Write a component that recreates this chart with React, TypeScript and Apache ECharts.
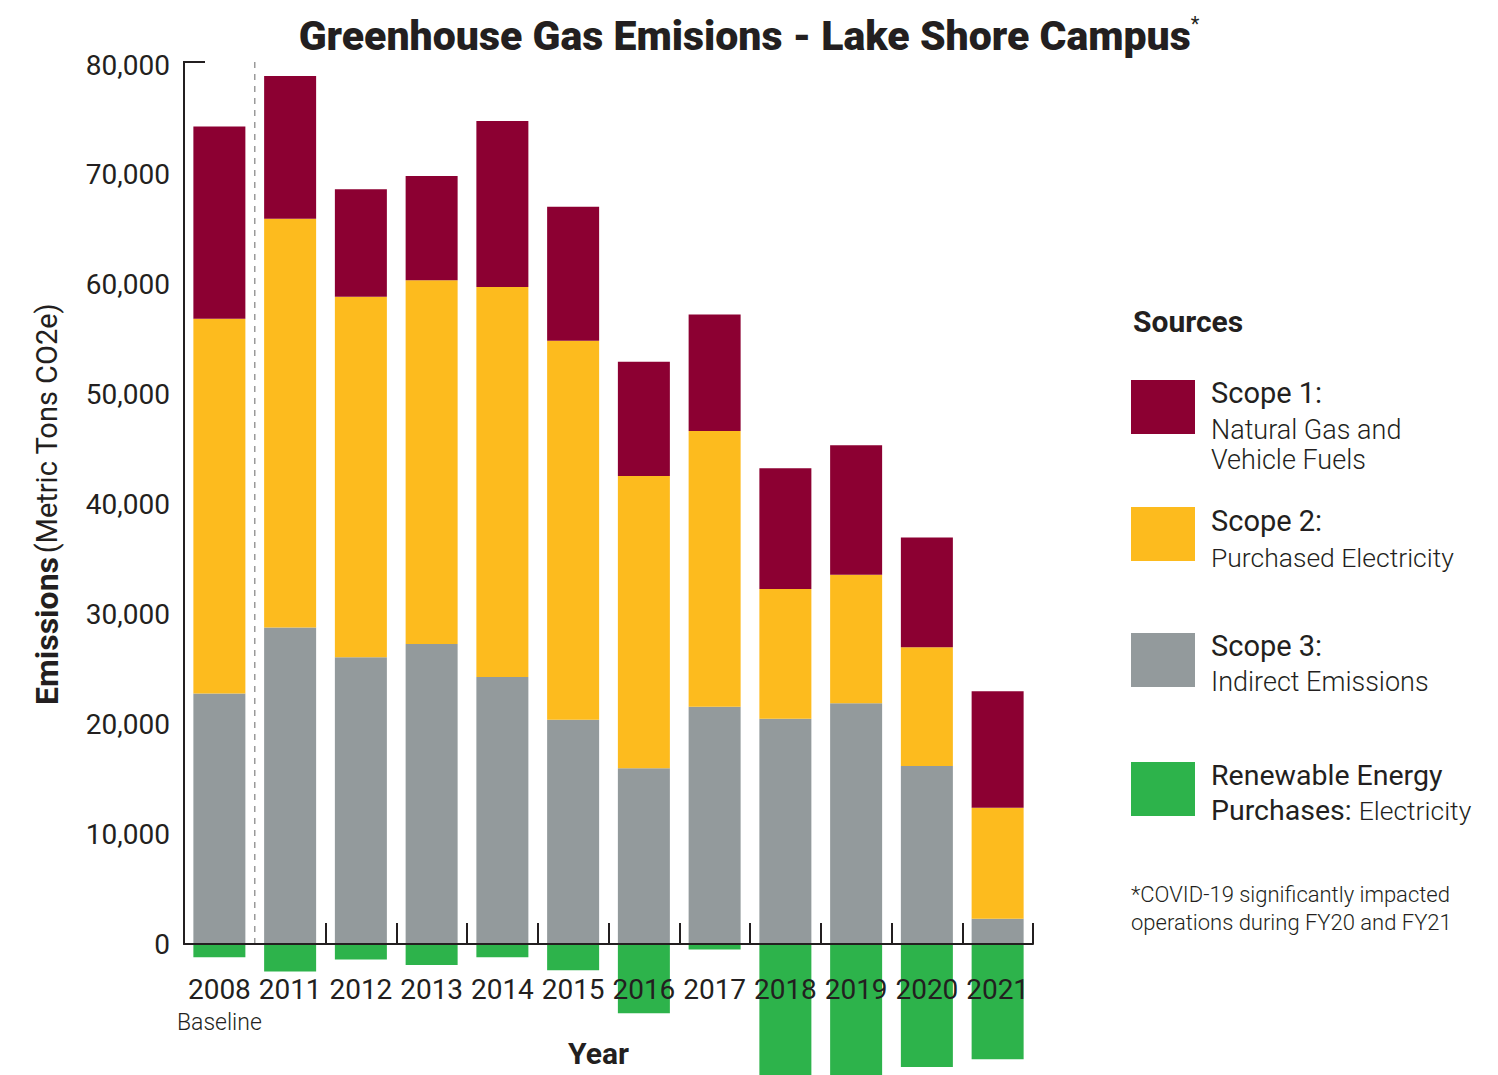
import React, { useEffect, useRef } from "react";
import * as echarts from "echarts";

const years = ["2008", "2011", "2012", "2013", "2014", "2015", "2016", "2017", "2018", "2019", "2020", "2021"];
const scope3 = [22800, 28800, 26100, 27300, 24300, 20400, 16000, 21600, 20500, 21900, 16200, 2300];
const scope2 = [34100, 37200, 32800, 33100, 35500, 34500, 26600, 25100, 11800, 11700, 10800, 10100];
const scope1 = [17500, 13000, 9800, 9500, 15100, 12200, 10400, 10600, 11000, 11800, 10000, 10600];
const renewable = [-1200, -2500, -1400, -1900, -1200, -2400, -6300, -500, -12000, -12000, -11200, -10500];
const yTicks = [0, 10000, 20000, 30000, 40000, 50000, 60000, 70000, 80000];

const RED = "#8C0032";
const YELLOW = "#FDBB1E";
const GRAY = "#939A9C";
const GREEN = "#2DB34B";
const INK = "#231F20";
const NUM = "Roboto, sans-serif";
const TXT = "Roboto, sans-serif";

function legendGraphics(): any[] {
  const sw = (id: string, y: number, color: string) => ({
    id, type: "rect", shape: { x: 1131, y, width: 64, height: 54 }, style: { fill: color },
  });
  const tx = (id: string, y: number, text: string, size: number, weight: any, rich?: any) => ({
    id, type: "text", x: 1211, y,
    style: { text, fontFamily: TXT, fontSize: size, fontWeight: weight, fill: INK, verticalAlign: "middle", align: "left", rich },
  });
  return [
    { id: "src", type: "text", x: 1133, y: 321, style: { text: "Sources", fontFamily: TXT, fontSize: 30, fontWeight: "bold", fill: INK, verticalAlign: "middle" } },
    sw("sw1", 380, RED), sw("sw2", 507, YELLOW), sw("sw3", 633, GRAY), sw("sw4", 762, GREEN),
    tx("l1a", 393, "Scope 1:", 29, 400),
    tx("l1b", 430, "Natural Gas and", 27, 300),
    tx("l1c", 460, "Vehicle Fuels", 27, 300),
    tx("l2a", 521, "Scope 2:", 29, 400),
    tx("l2b", 557, "Purchased Electricity", 26.5, 300),
    tx("l3a", 646, "Scope 3:", 29, 400),
    tx("l3b", 682, "Indirect Emissions", 27, 300),
    tx("l4a", 775, "Renewable Energy", 28.5, 400),
    tx("l4b", 810, "{m|Purchases:} {l|Electricity}", 28.5, 400, {
      m: { fontFamily: TXT, fontSize: 28.5, fontWeight: 400, fill: INK },
      l: { fontFamily: TXT, fontSize: 26.5, fontWeight: 300, fill: INK },
    }),
    { id: "fn1", type: "text", x: 1131, y: 894, style: { text: "*COVID-19 significantly impacted", fontFamily: TXT, fontSize: 22, fontWeight: 300, fill: INK, verticalAlign: "middle" } },
    { id: "fn2", type: "text", x: 1131, y: 922, style: { text: "operations during FY20 and FY21", fontFamily: TXT, fontSize: 22, fontWeight: 300, fill: INK, verticalAlign: "middle" } },
    {
      id: "yname", type: "text", x: 47, y: 504, rotation: Math.PI / 2,
      style: {
        text: "{b|Emissions} {r|(Metric Tons CO2e)}", align: "center", verticalAlign: "middle",
        rich: {
          b: { fontFamily: TXT, fontSize: 32, fontWeight: "bold", fill: INK },
          r: { fontFamily: TXT, fontSize: 29, fontWeight: 400, fill: INK },
        },
      },
    },
  ];
}

export default function App() {
  const ref = useRef<HTMLDivElement>(null);
  useEffect(() => {
    if (!ref.current) return;
    const chart = echarts.init(ref.current, null, { renderer: "svg" });
    const barCommon = { type: "bar", stack: "total", barWidth: 52, clip: false, emphasis: { disabled: true } };
    chart.setOption({
      animation: false,
      backgroundColor: "#ffffff",
      title: {
        left: "center", top: 4,
        text: "{t|Greenhouse Gas Emisions - Lake Shore Campus}{s|*}",
        textStyle: {
          rich: {
            t: { fontFamily: TXT, fontSize: 41, fontWeight: 900, color: INK, lineHeight: 54 },
            s: { fontFamily: TXT, fontSize: 20, fontWeight: 400, color: INK, lineHeight: 54, padding: [0, 0, 24, 0] },
          },
        },
      },
      grid: { left: 184, right: 465, top: 65, bottom: 131, containLabel: false, outerBoundsMode: "none" },
      xAxis: {
        type: "category", data: years, z: 10,
        axisLine: { onZero: false, lineStyle: { color: INK, width: 2 } },
        axisTick: { show: true, inside: true, length: 21, lineStyle: { color: INK, width: 2 }, interval: (i: number) => i >= 2 },
        axisLabel: {
          margin: 28, interval: 0,
          formatter: (v: string) => (v === "2008" ? "{y|2008}\n{b|Baseline}" : "{y|" + v + "}"),
          rich: {
            y: { fontFamily: NUM, fontSize: 28, color: INK, lineHeight: 34 },
            b: { fontFamily: TXT, fontSize: 23, color: INK, lineHeight: 32, fontWeight: 300 },
          },
        },
        name: "Year", nameLocation: "middle", nameGap: 95,
        nameTextStyle: { fontFamily: TXT, fontSize: 30, fontWeight: "bold", color: INK, lineHeight: 24, padding: [0, 20, 0, 0] },
      },
      yAxis: {
        type: "value", min: 0, max: 80000,
        axisLine: { show: true, lineStyle: { color: INK, width: 2 } }, axisTick: { show: false }, splitLine: { show: false },
        axisLabel: {
          customValues: yTicks, margin: 14, fontFamily: NUM, fontSize: 28, color: INK,
          formatter: (v: number) => v.toLocaleString("en-US"),
        },
      },
      series: [
        { ...barCommon, name: "Scope 3: Indirect Emissions", data: scope3, itemStyle: { color: GRAY } },
        { ...barCommon, name: "Scope 2: Purchased Electricity", data: scope2, itemStyle: { color: YELLOW } },
        { ...barCommon, name: "Scope 1: Natural Gas and Vehicle Fuels", data: scope1, itemStyle: { color: RED } },
        { ...barCommon, name: "Renewable Energy Purchases: Electricity", data: renewable, itemStyle: { color: GREEN } },
      ],
      graphic: legendGraphics(),
    });

    const x0 = chart.convertToPixel({ xAxisIndex: 0 }, years[0]) as number;
    const x1 = chart.convertToPixel({ xAxisIndex: 0 }, years[1]) as number;
    const band = x1 - x0;
    const left = x0 - band / 2;
    const yTop = chart.convertToPixel({ yAxisIndex: 0 }, yTicks[yTicks.length - 1]) as number;
    const yZero = chart.convertToPixel({ yAxisIndex: 0 }, 0) as number;
    const dashX = (x0 + x1) / 2;
    chart.setOption({
      graphic: [
        ...legendGraphics(),
        { id: "yline", type: "line", shape: { x1: left, y1: yTop - 3, x2: left, y2: yTop }, style: { stroke: INK, lineWidth: 2 } },
        { id: "ytop", type: "line", shape: { x1: left - 1, y1: yTop - 3, x2: left + 21, y2: yTop - 3 }, style: { stroke: INK, lineWidth: 2 } },
        { id: "dash", type: "line", shape: { x1: dashX, y1: yTop - 3, x2: dashX, y2: yZero }, style: { stroke: "#9A9A9A", lineWidth: 1.5, lineDash: [6, 6] } },
      ],
    });
    return () => chart.dispose();
  }, []);
  return <div ref={ref} style={{ position: "fixed", left: 0, top: 0, width: 1498, height: 1075 }} />;
}
